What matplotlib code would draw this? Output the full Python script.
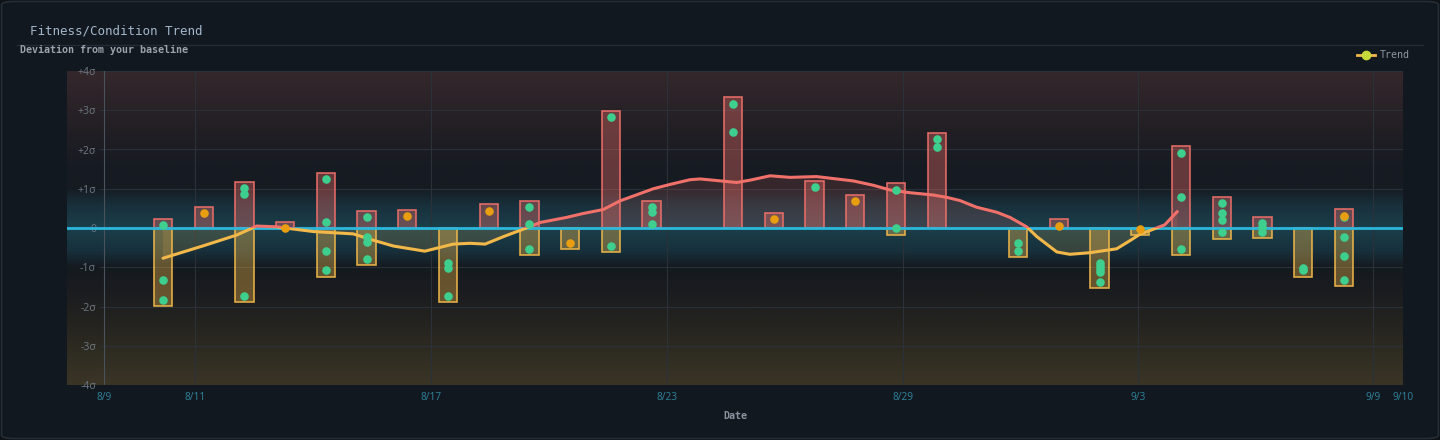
import numpy as np
import matplotlib.pyplot as plt
from matplotlib.colors import to_rgb
from matplotlib.lines import Line2D
from matplotlib.patches import FancyBboxPatch, Rectangle

# one bar per day (day index 0..29), values in sigma; nan = no readings that day
bar_top = [0.23, 0.53, 1.16, 0.16, 1.39, 0.43, 0.47, 0.0, 0.60, 0.69,
           0.0, 2.97, 0.70, np.nan, 3.33, 0.39, 1.21, 0.85, 1.14, 2.43,
           np.nan, 0.0, 0.22, 0.0, 0.0, 2.08, 0.78, 0.29, 0.0, 0.48]
bar_bottom = [-1.99, 0.0, -1.88, 0.0, -1.24, -0.95, 0.0, -1.88, 0.0, -0.69,
              -0.53, -0.62, 0.0, np.nan, 0.0, 0.0, 0.0, 0.0, -0.17, 0.0,
              np.nan, -0.75, 0.0, -1.53, -0.19, -0.70, -0.28, -0.26, -1.24, -1.49]

# individual metric readings per day
green_dots = [[0.08, -1.32, -1.83], [], [1.01, 0.87, -1.72], [],
              [1.24, 0.15, -0.58, -1.08], [0.28, -0.22, -0.36, -0.79], [],
              [-0.88, -1.03, -1.73], [], [0.53, 0.09, -0.54], [],
              [2.82, -0.45], [0.54, 0.40, 0.09], [], [3.17, 2.44], [],
              [1.05], [], [0.98, -0.01], [2.27, 2.06], [], [-0.37, -0.59], [],
              [-0.90, -0.97, -1.04, -1.11, -1.37], [], [1.91, 0.80, -0.53],
              [0.63, 0.37, 0.21, -0.11], [0.12, 0.02, -0.09], [-1.01, -1.08],
              [0.29, -0.23, -0.71, -1.32]]
orange_dots = [None, 0.37, None, 0.01, None, None, 0.31, None, 0.44, None,
               -0.37, None, None, None, None, 0.24, None, 0.70, None, None,
               None, None, 0.06, None, -0.02, None, None, None, None, 0.31]

# trend curve (x in day index)
trend_x = [0.00, 1.00, 1.81, 2.30, 2.79, 3.00, 3.69, 4.67, 5.16, 5.66, 6.43,
           7.13, 7.54, 7.91, 8.36, 9.00, 9.26, 9.91, 10.32, 10.81, 11.22,
           12.04, 12.45, 12.94, 13.19, 14.09, 14.42, 14.91, 15.40, 16.05,
           16.95, 17.44, 17.85, 18.34, 18.92, 19.25, 19.57, 19.98, 20.48,
           20.80, 21.21, 21.46, 21.95, 22.27, 22.76, 23.42, 23.75, 23.99,
           24.40, 24.60, 24.91]
trend_y = [-0.77, -0.45, -0.18, 0.05, 0.03, 0.00, -0.09, -0.15, -0.31, -0.46,
           -0.59, -0.41, -0.39, -0.41, -0.22, 0.03, 0.14, 0.27, 0.37, 0.47,
           0.69, 1.00, 1.11, 1.23, 1.25, 1.16, 1.22, 1.33, 1.29, 1.31, 1.20,
           1.09, 0.97, 0.90, 0.84, 0.78, 0.70, 0.53, 0.40, 0.27, 0.03, -0.22,
           -0.61, -0.67, -0.63, -0.53, -0.32, -0.16, 0.00, 0.08, 0.42]

tick_pos = [-1.449, 0.786, 6.582, 12.377, 18.173, 23.944, 29.715, 30.452]
tick_labels = ['8/9', '8/11', '8/17', '8/23', '8/29', '9/3', '9/9', '9/10']
y_ticks = [4, 3, 2, 1, 0, -1, -2, -3, -4]
y_labels = ['+4σ', '+3σ', '+2σ', '+1σ', '0', '-1σ', '-2σ', '-3σ', '-4σ']

RED = '#f0706a'
YELLOW = '#f2b94a'
GREEN = '#3ecf8e'
ORANGE = '#e89e10'
ZERO = '#2bb8dc'
MONO = 'DejaVu Sans Mono'
SANS = 'Noto Sans'

X_LO, X_HI = -2.358, 30.452

fig = plt.figure(figsize=(14.4, 4.4), dpi=100)
fig.patch.set_facecolor('#0e1217')

# card
card = FancyBboxPatch((1.5 / 1440, 1.5 / 440), 1437 / 1440, 437 / 440,
                      boxstyle='round,pad=0,rounding_size=0.008',
                      transform=fig.transFigure, facecolor='#121820',
                      edgecolor='#262d35', linewidth=1.2, zorder=0)
fig.add_artist(card)
fig.add_artist(Line2D([17 / 1440, 1423 / 1440], [1 - 45 / 440] * 2,
                      color='#252c35', linewidth=1, transform=fig.transFigure))

fig.text(30 / 1440, 1 - 31 / 440, 'Fitness/Condition Trend', family=MONO,
         fontsize=9, color='#a3b7ca', va='center', ha='left')
fig.text(20 / 1440, 1 - 50 / 440, 'Deviation from your baseline', family=MONO,
         fontsize=7.2, color='#9aa2ab', va='center', ha='left', fontweight='bold')

# legend
fig.add_artist(Line2D([1357 / 1440, 1375 / 1440], [1 - 55 / 440] * 2,
                      color=YELLOW, linewidth=2, transform=fig.transFigure))
fig.add_artist(Line2D([1366 / 1440], [1 - 55 / 440], marker='o', markersize=6,
                      color='#c5d93a', linestyle='none', transform=fig.transFigure))
fig.text(1380 / 1440, 1 - 55 / 440, 'Trend', family=MONO, fontsize=7.2,
         color='#8d96a0', va='center', ha='left')

ax = fig.add_axes([67 / 1440, 1 - 385 / 440, (1403 - 67) / 1440, (385 - 71) / 440])
ax.set_facecolor('none')
for s in ax.spines.values():
    s.set_visible(False)

# background gradient (red above, teal glow at baseline, olive below)
stops = [(-4.0, '#3b3526'), (-2.5, '#25241f'), (-1.6, '#1a1c1f'), (-1.0, '#151a20'),
         (-0.6, '#17303b'), (0.0, '#1b3f4c'), (0.6, '#182f3a'), (1.0, '#161b22'),
         (1.6, '#171b22'), (2.5, '#221f25'), (4.0, '#35282c')]
pos = [p for p, _ in stops]
cols = np.array([to_rgb(c) for _, c in stops])
yy = np.linspace(-4, 4, 500)
img = np.stack([np.interp(yy, pos, cols[:, k]) for k in range(3)], axis=-1)[:, None, :]
ax.imshow(img, extent=[X_LO, X_HI, -4, 4], origin='lower', aspect='auto', zorder=0)

ax.set_xlim(X_LO, X_HI)
ax.set_ylim(-4, 4)

# grid
ax.hlines(y_ticks, -1.572, X_HI, color='#2b3139', linewidth=0.8, zorder=1)
for p, lab in zip(tick_pos, tick_labels):
    if lab == '9/10':
        continue
    ax.axvline(p, color='#4a525b' if lab == '8/9' else '#2a3139',
               linewidth=0.8, zorder=1)

idx = np.arange(len(bar_top))
top = np.array(bar_top, dtype=float)
bot = np.array(bar_bottom, dtype=float)
up = np.nan_to_num(top) > 0
dn = np.nan_to_num(bot) < 0

r = to_rgb(RED)
yl = to_rgb(YELLOW)
ax.bar(idx[dn], bot[dn], width=0.45, facecolor=(*yl, 0.36),
       edgecolor=(*yl, 0.9), linewidth=1.2, zorder=3)
ax.bar(idx[up], top[up], width=0.45, facecolor=(*r, 0.36),
       edgecolor=(*r, 0.9), linewidth=1.2, zorder=3)

# trend fill + split colour line
tx = np.array(trend_x)
ty = np.array(trend_y)
ax.fill_between(tx, ty, 0, where=ty >= 0, interpolate=True, color=RED,
                alpha=0.15, linewidth=0, zorder=2)
ax.fill_between(tx, ty, 0, where=ty <= 0, interpolate=True, color=YELLOW,
                alpha=0.15, linewidth=0, zorder=2)

ax.axhline(0, color=ZERO, linewidth=2, zorder=4)

line_up, = ax.plot(tx, ty, color=RED, linewidth=2.2, zorder=5,
                   solid_capstyle='round')
line_up.set_clip_path(Rectangle((X_LO, 0), X_HI - X_LO, 5, transform=ax.transData))
line_dn, = ax.plot(tx, ty, color=YELLOW, linewidth=2.2, zorder=5,
                   solid_capstyle='round')
line_dn.set_clip_path(Rectangle((X_LO, -5), X_HI - X_LO, 5, transform=ax.transData))

for i, vals in enumerate(green_dots):
    if vals:
        ax.scatter([i] * len(vals), vals, s=38, color=GREEN, linewidths=0, zorder=6)
for i, v in enumerate(orange_dots):
    if v is not None:
        ax.scatter([i], [v], s=38, color=ORANGE, linewidths=0, zorder=7)

ax.set_yticks(y_ticks)
ax.set_yticklabels(y_labels, family=SANS, fontsize=7.5, color='#6a737d')
ax.tick_params(axis='y', length=0, pad=-20.9)
ax.set_xticks(tick_pos)
ax.set_xticklabels(tick_labels, family=SANS, fontsize=7.3, color='#2d7d94')
ax.tick_params(axis='x', length=0, pad=5)
ax.set_xlabel('Date', family=MONO, fontsize=7.2, color='#8b949e',
              fontweight='bold', labelpad=6)

fig.savefig('out.png', dpi=100, facecolor=fig.get_facecolor())
